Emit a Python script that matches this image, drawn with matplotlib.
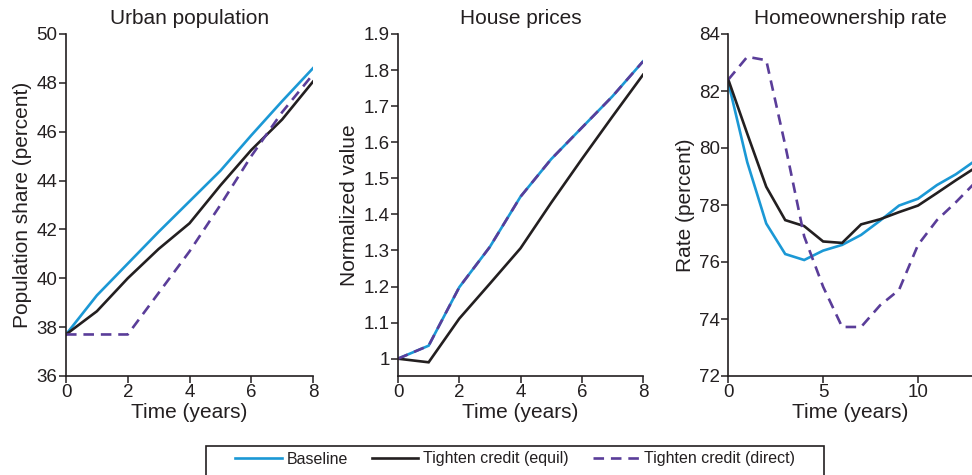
import numpy as np
import matplotlib
matplotlib.use("Agg")
import matplotlib.pyplot as plt
from matplotlib.lines import Line2D
from matplotlib.patches import Rectangle

plt.rcParams['font.family'] = ['Liberation Sans', 'DejaVu Sans']

# --- data ---
years_short = [0, 1, 2, 3, 4, 5, 6, 7, 8]
urban_base = [37.7, 39.3, 40.6, 41.9, 43.15, 44.4, 45.85, 47.25, 48.6]
urban_equil = [37.7, 38.65, 40.0, 41.2, 42.25, 43.8, 45.25, 46.5, 48.05]
urban_direct = [37.7, 37.7, 37.7, 39.4, 41.1, 43.0, 45.0, 46.8, 48.35]

price_base = [1.0, 1.036, 1.198, 1.31, 1.449, 1.553, 1.64, 1.727, 1.824]
price_equil = [1.0, 0.99, 1.111, 1.208, 1.306, 1.432, 1.553, 1.671, 1.787]
price_direct = [1.0, 1.036, 1.198, 1.31, 1.449, 1.553, 1.64, 1.727, 1.824]

years_long = [0, 1, 2, 3, 4, 5, 6, 7, 8, 9, 10, 11, 12, 13]
own_base = [82.3, 79.5, 77.35, 76.28, 76.07, 76.4, 76.6, 76.95, 77.45, 77.98, 78.22, 78.7, 79.08, 79.55]
own_equil = [82.4, 80.5, 78.64, 77.47, 77.26, 76.72, 76.67, 77.32, 77.5, 77.75, 77.98, 78.42, 78.87, 79.3]
own_direct = [82.4, 83.2, 83.08, 80.1, 76.9, 75.13, 73.72, 73.72, 74.48, 75.02, 76.6, 77.47, 78.1, 78.78]

series_names = ['Baseline', 'Tighten credit (equil)', 'Tighten credit (direct)']

BLUE = '#1b98d5'
BLACK = '#231f20'
PURPLE = '#5a3d99'
TXT = '#231f20'
LW = 1.9
DASH = (0, (4.0, 2.6))

plt.rcParams['text.color'] = TXT
plt.rcParams['axes.labelcolor'] = TXT
plt.rcParams['xtick.color'] = TXT
plt.rcParams['ytick.color'] = TXT

fig = plt.figure(figsize=(9.72, 4.75), dpi=100)
W, H = 972, 475


def make_ax(x0, x1, y0=34, y1=376):
    return fig.add_axes([x0 / W, 1 - y1 / H, (x1 - x0) / W, (y1 - y0) / H])


def style(ax, title, ylabel):
    for s in ['top', 'right']:
        ax.spines[s].set_visible(False)
    for s in ['left', 'bottom']:
        ax.spines[s].set_color(BLACK)
        ax.spines[s].set_linewidth(1.2)
    ax.tick_params(direction='out', length=5, width=1.1, labelsize=13.5, pad=1)
    ax.set_title(title, fontsize=15, pad=7)
    ax.set_xlabel('Time (years)', fontsize=15, labelpad=1)
    ax.set_ylabel(ylabel, fontsize=15, labelpad=3)


def draw(ax, x, base, equil, direct):
    ax.plot(x, base, color=BLUE, lw=LW, solid_joinstyle='miter')
    ax.plot(x, equil, color=BLACK, lw=LW, solid_joinstyle='miter')
    ax.plot(x, direct, color=PURPLE, lw=LW, ls=DASH)


ax1 = make_ax(66, 313)
draw(ax1, years_short, urban_base, urban_equil, urban_direct)
ax1.set_xlim(0, 8)
ax1.set_ylim(36, 50)
ax1.set_xticks([0, 2, 4, 6, 8])
ax1.set_yticks(np.arange(36, 51, 2))
style(ax1, 'Urban population', 'Population share (percent)')

ax2 = make_ax(398, 643)
draw(ax2, years_short, price_base, price_equil, price_direct)
ax2.set_xlim(0, 8)
ax2.set_ylim(0.952, 1.9)
ax2.set_xticks([0, 2, 4, 6, 8])
yt = [1.0, 1.1, 1.2, 1.3, 1.4, 1.5, 1.6, 1.7, 1.8, 1.9]
ax2.set_yticks(yt)
ax2.set_yticklabels(['1'] + ['%.1f' % v for v in yt[1:]])
style(ax2, 'House prices', 'Normalized value')

ax3 = make_ax(728.3, 972)
draw(ax3, years_long, own_base, own_equil, own_direct)
ax3.set_xlim(0, (972 - 728.3) / 18.97)
ax3.set_ylim(72, 84)
ax3.set_xticks([0, 5, 10])
ax3.set_yticks(np.arange(72, 85, 2))
style(ax3, 'Homeownership rate', 'Rate (percent)')

# legend box, cut off at the bottom like the reference
fig.patches.append(Rectangle((206 / W, -0.05), (824 - 206) / W, 0.05 + 1 - 446 / H,
                             transform=fig.transFigure, fill=False,
                             edgecolor=BLACK, lw=1.2))
handles = [Line2D([], [], color=BLUE, lw=LW),
           Line2D([], [], color=BLACK, lw=LW),
           Line2D([], [], color=PURPLE, lw=LW, ls=DASH)]
fig.legend(handles, series_names, loc='center', bbox_to_anchor=(515 / W, 1 - 459 / H),
           ncol=3, frameon=False, fontsize=11.5, handlelength=2.9,
           handletextpad=0.3, columnspacing=1.5)

fig.savefig('out.png', dpi=100)
